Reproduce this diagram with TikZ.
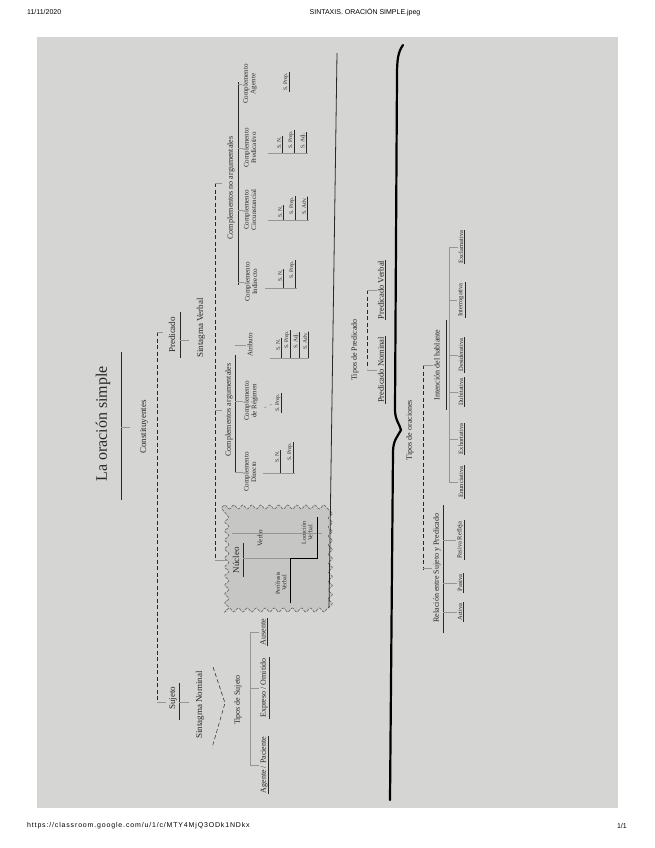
\documentclass[tikz,border=0pt]{standalone}
\usepackage{fontspec}
\setmainfont{Liberation Serif}
\newfontfamily\hdrfont{Liberation Sans}
\newfontfamily\urlfont[LetterSpace=12]{Liberation Sans}
\usetikzlibrary{decorations.pathmorphing,calc}
\definecolor{bgphoto}{RGB}{213,213,211}
\definecolor{boxfill}{RGB}{198,198,196}
\definecolor{ink}{RGB}{40,40,40}
\definecolor{faint}{RGB}{150,150,148}
\tikzset{
  lbl/.style={rotate=90, inner sep=1pt, text=ink, align=center, font=\fontsize{8}{8.5}\selectfont},
  big/.style={lbl, font=\fontsize{16}{18}\selectfont},
  mid/.style={lbl, font=\fontsize{9}{10}\selectfont},
  cmp/.style={lbl, font=\fontsize{7}{7.5}\selectfont},
  sx/.style={lbl, font=\fontsize{5.5}{6}\selectfont},
  ty/.style={lbl, font=\fontsize{6.5}{7}\selectfont},
  hdr/.style={inner sep=0pt, font=\hdrfont\fontsize{7}{8}\selectfont, text=black},
  uline/.style={draw=ink, line width=0.6pt},
  bus/.style={draw=faint, line width=0.5pt},
  dbus/.style={draw=ink, line width=0.5pt, dash pattern=on 4pt off 2.5pt},
  brace/.style={draw=black, line width=2.2pt, line cap=round, line join=round},
  scallop/.style={draw=black!60, line width=0.6pt, dash pattern=on 3pt off 1.2pt, fill=boxfill,
    decorate, decoration={snake, segment length=9pt, amplitude=2pt}},
}
\begin{document}
\begin{tikzpicture}[x=1pt, y=-1pt]
\useasboundingbox (0,0) rectangle (655,848);
\fill[white] (0,0) rectangle (655,848);
\fill[bgphoto] (37,37) rectangle (618,808);

% header / footer
\node[hdr, anchor=west] (date) at (27,12) {11/11/2020};
\node[hdr] (title) at (365,12) {SINTAXIS. ORACIÓN SIMPLE.jpeg};
\node[hdr, anchor=west, font=\urlfont\fontsize{7}{8}\selectfont] (url) at (27,826) {https://classroom.google.com/u/1/c/MTY4MjQ3ODk1NDkx};
\node[hdr, anchor=east] (pg) at (627,826) {1/1};

% title
\node[big] (T) at (103,424) {La oración simple};
\draw[uline, line width=1pt] (121,352) -- (121,500);
\draw[bus] (121,427) -- (130,427);
\node[mid] (C) at (144,427) {Constituyentes};
\draw[dbus] (157,332) -- (157,702);
\draw[bus] (157,332) -- (163,332);
\draw[bus] (157,702) -- (166,702);

% Predicado / Sujeto
\node[mid] (P) at (172,335) {Predicado};
\draw[uline] (180,312) -- (180,358);
\node[mid] (S) at (173,698) {Sujeto};
\draw[uline] (179,683) -- (179,720);
\draw[bus] (180,340) -- (189,340);
\draw[bus] (179,702) -- (189,702);
\node[mid] (SV) at (201,328) {Sintagma Verbal};
\node[mid] (SN) at (200,705) {Sintagma Nominal};

% Sujeto side
\draw[dbus] (213,667) -- (225,703) -- (212,748);
\node[lbl] (TS) at (238,700) {Tipos de Sujeto};
\draw[bus] (250,632) -- (250,765);
\node[lbl] (aus) at (263,632) {Ausente};
\node[lbl] (exp) at (264,688) {Expreso / Omitido};
\node[lbl] (age) at (264,765) {Agente / Paciente};
\draw[uline] (aus.south west) -- (aus.south east);
\draw[uline] (exp.south west) -- (exp.south east);
\draw[uline] (age.south west) -- (age.south east);
\foreach \n in {aus,exp,age}{\draw[bus] (250,0 |- \n.north) -- (\n.north);}

% SV bus
\draw[dbus] (215,183) -- (215,560);
\draw[bus] (215,183) -- (222,183);
\draw[bus] (215,410) -- (222,410);

% Complementos no argumentales
\node[lbl] (CNA) at (231,188) {Complementos no argumentales};
\draw[uline] (238,82) -- (238,285);
\node[cmp] (cag) at (250,84) {Complemento\\Agente};
\node[cmp] (cpr) at (250,148) {Complemento\\Predicativo};
\node[cmp] (cci) at (250,210) {Complemento\\Circunstancial};
\node[cmp] (cin) at (251,282) {Complemento\\Indirecto};
\foreach \n in {cag,cpr,cci,cin}{\draw[bus] (238,0 |- \n.north) -- (\n.north);}

% Agente
\node[sx] (ag1) at (286,82) {S. Prep.};
\draw[uline] (ag1.south west) -- (ag1.south east);
% Predicativo
\node[sx] (pr1) at (279,143) {S. N.};
\node[sx] (pr2) at (291,140) {S. Prep.};
\node[sx] (pr3) at (303,141) {S. Adj.};
\draw[bus] (268,153) -- (308,153);
\foreach \n in {pr1,pr2,pr3}{\draw[uline] (\n.south west) -- (\n.south east) -- (\n.south east |- 0,153);}
% Circunstancial
\node[sx] (ci1) at (280,212) {S. N.};
\node[sx] (ci2) at (292,206) {S. Prep.};
\node[sx] (ci3) at (304,206) {S. Adv.};
\draw[bus] (268,220) -- (309,220);
\foreach \n in {ci1,ci2,ci3}{\draw[uline] (\n.south west) -- (\n.south east) -- (\n.south east |- 0,220);}
% Indirecto
\node[sx] (in1) at (280,276) {S. N.};
\node[sx] (in2) at (292,270) {S. Prep.};
\draw[bus] (265,288) -- (297,288);
\foreach \n in {in1,in2}{\draw[uline] (\n.south west) -- (\n.south east) -- (\n.south east |- 0,288);}

% Complementos argumentales
\node[lbl] (CA) at (229,410) {Complementos argumentales};
\draw[uline] (235,355) -- (235,472);
\node[cmp] (atr) at (250,345) {Atributo};
\node[cmp] (reg) at (251,401) {Complemento\\de Régimen};
\node[cmp] (dir) at (250,472) {Complemento\\Directo};
\foreach \n in {atr,reg,dir}{\draw[bus] (235,0 |- \n.north) -- (\n.north);}
% Atributo
\node[sx] (at1) at (278,345) {S. N.};
\node[sx] (at2) at (287,340) {S. Prep.};
\node[sx] (at3) at (296,341) {S. Adj.};
\node[sx] (at4) at (305,341) {S. Adv.};
\draw[bus] (270,358) -- (309,358);
\foreach \n in {at1,at2,at3,at4}{\draw[uline] (\n.south west) -- (\n.south east) -- (\n.south east |- 0,358);}
% Regimen
\node[sx] (rg1) at (278,403) {S. Prep.};
\draw[uline] (rg1.south west) -- (rg1.south east);
\draw[bus, dashed] (264,408) -- (rg1.north);
% Directo
\node[sx] (dr1) at (277,457) {S. N.};
\node[sx] (dr2) at (290,452) {S. Prep.};
\draw[bus] (263,473) -- (295,473);
\foreach \n in {dr1,dr2}{\draw[uline] (\n.south west) -- (\n.south east) -- (\n.south east |- 0,473);}

% Nucleo box
\path[scallop] (222,507) -- (325,507) -- (325,608) -- (222,608) -- cycle;
\node[mid] (nuc) at (236,560) {Núcleo};
\draw[uline] (243,543) -- (243,577);
\draw[bus] (215,560) -- (228,560);
\node[cmp] (verbo) at (260,538) {Verbo};
\node[sx, font=\fontsize{6}{6.5}\selectfont] (peri) at (281,583) {Perífrasis\\Verbal};
\node[sx, font=\fontsize{6}{6.5}\selectfont] (locu) at (307,533) {Locución\\Verbal};
\draw[bus] (243,558) -- (290,558);
\draw[bus] (232,533) -- (322,533);
\draw[draw=black, line width=0.8pt] (290,603) -- (290,558) -- (317,558) -- (317,517);

% Tipos de predicado
\draw[draw=ink, line width=0.8pt] (337,53) -- (329,608);
\node[lbl] (TP) at (355,350) {Tipos de Predicado};
\draw[dbus] (367,290) -- (367,368);
\node[mid, font=\fontsize{8.5}{9}\selectfont] (PV) at (381,290) {Predicado Verbal};
\node[mid, font=\fontsize{8.5}{9}\selectfont] (PN) at (381,370) {Predicado Nominal};
\draw[uline] (PV.south west) -- (PV.south east);
\draw[uline] (PN.south west) -- (PN.south east);
\draw[bus] (367,290) -- (PV.north);
\draw[bus] (367,370) -- (PN.north);

% big brace
\draw[brace] (403,45) .. controls (398,52) and (397,60) .. (397,75)
  -- (395,410) .. controls (395,420) and (400,425) .. (401,430)
  .. controls (398,436) and (393,440) .. (393,452) -- (390,800);

% Tipos de oraciones
\node[lbl] (TO) at (410,430) {Tipos de oraciones};
\draw[dbus] (423,365) -- (423,570);
\node[lbl] (IH) at (437,365) {Intención del hablante};
\node[lbl] (RS) at (437,568) {Relación entre Sujeto y Predicado};
\draw[bus] (423,365) -- (IH.north);
\draw[bus] (423,568) -- (RS.north);
\draw[uline] (446,320) -- (446,410);
\draw[uline] (443,505) -- (443,633);

\node[ty] (e1) at (461,482) {Enunciativa};
\node[ty] (e2) at (461,439) {Exhortativa};
\node[ty] (e3) at (461,392) {Dubitativa};
\node[ty] (e4) at (461,355) {Desiderativa};
\node[ty] (e5) at (461,300) {Interrogativa};
\node[ty] (e6) at (461,247) {Exclamativa};
\draw[bus] (449,247) -- (449,482);
\foreach \n in {e1,e2,e3,e4,e5,e6}{
  \draw[uline] (\n.south west) -- (\n.south east);
  \draw[bus] (449,0 |- \n.north) -- (\n.north);}

\node[ty] (r1) at (460,540) {Pasiva Refleja};
\node[ty] (r2) at (460,583) {Pasiva};
\node[ty] (r3) at (460,612) {Activa};
\foreach \n in {r1,r2,r3}{
  \draw[uline] (\n.south west) -- (\n.south east);
  \draw[bus] (443,0 |- \n.north) -- (\n.north);}
\end{tikzpicture}
\end{document}
